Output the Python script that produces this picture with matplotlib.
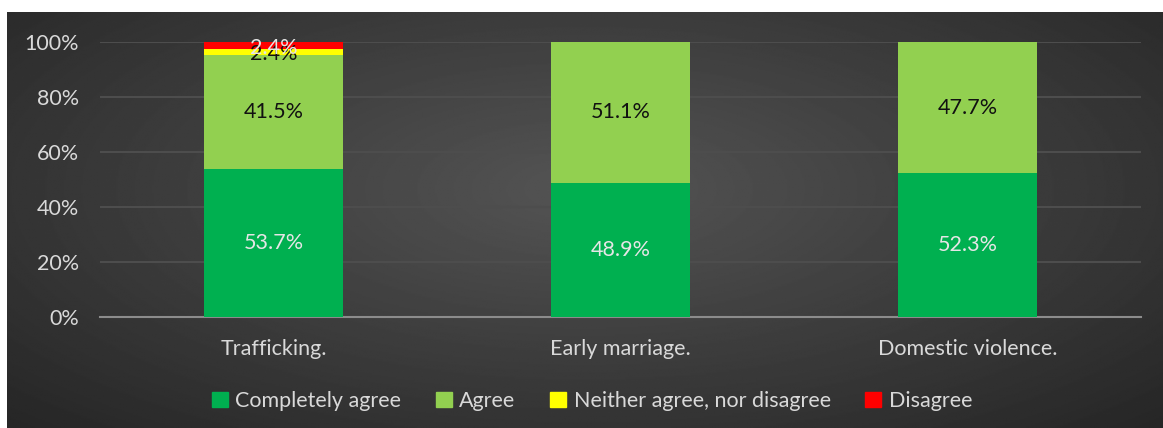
import matplotlib.pyplot as plt
import numpy as np

plt.rcParams['font.family'] = ['Lato', 'DejaVu Sans']

categories = ['Trafficking.', 'Early marriage.', 'Domestic violence.']
series = ['Completely agree', 'Agree', 'Neither agree, nor disagree', 'Disagree']
completely = [53.7, 48.9, 52.3]
agree = [41.5, 51.1, 47.7]
neither = [2.4, 0.0, 0.0]
disagree = [2.4, 0.0, 0.0]
values = [completely, agree, neither, disagree]

colores = ['#00B050', '#92D050', '#FFFF00', '#FF0000']
txt_col = ['#e6e6e6', '#111111', '#111111', '#e6e6e6']
# pequeño desplazamiento vertical de las etiquetas (en %)
desp = [0, 0, -0.6, -1.0]

W, H = 1163, 428
fig = plt.figure(figsize=(W / 100, H / 100), dpi=100)
fig.patch.set_facecolor('white')

# fondo oscuro con degradado radial
bg = fig.add_axes([7 / W, 0, 1 - 7 / W, (H - 12) / H], zorder=-5)
yy, xx = np.mgrid[-1:1:300j, -1:1:800j]
rr = np.sqrt((xx * 0.85) ** 2 + ((yy + 0.15) * 0.75) ** 2)
grad = 0.33 - 0.18 * np.clip(rr, 0, 1.2) / 1.2
bg.imshow(grad, cmap='gray', vmin=0, vmax=1, aspect='auto', extent=[0, 1, 0, 1])
bg.axis('off')

ax = fig.add_axes([100 / W, 1 - 317 / H, 1041 / W, 275 / H])
ax.patch.set_alpha(0)
x = np.arange(len(categories))
bottom = np.zeros(len(categories))
for vals, c, tc, d in zip(values, colores, txt_col, desp):
    vals = np.array(vals)
    ax.bar(x, vals, 0.4, bottom=bottom, color=c, zorder=3)
    for i, v in enumerate(vals):
        if v > 0:
            ax.text(x[i], bottom[i] + v / 2 + d, f'{v:.1f}%', ha='center', va='center',
                    color=tc, fontsize=15.5, zorder=4)
    bottom += vals

ax.set_xlim(-0.5, 2.5)
ax.set_ylim(0, 100)
ax.set_yticks(range(0, 101, 20))
ax.set_yticklabels([f'{t}%' for t in range(0, 101, 20)])
ax.set_xticks(x)
ax.set_xticklabels(categories)
ax.tick_params(colors='#d9d9d9', labelsize=15.5, length=0)
ax.tick_params(axis='y', pad=15)
ax.tick_params(axis='x', pad=16)
ax.grid(axis='y', color='#4d4d4d', linewidth=1.5, zorder=0)
for s in ['top', 'right', 'left']:
    ax.spines[s].set_visible(False)
ax.spines['bottom'].set_color('#8c8c8c')
ax.spines['bottom'].set_linewidth(1.5)

handles = [plt.Rectangle((0, 0), 1, 1, color=c) for c in colores]
leg = fig.legend(handles, series, loc='center', bbox_to_anchor=(592 / W, 1 - 401 / H),
                 ncol=4, frameon=False, fontsize=15.5, handlelength=0.75, handleheight=0.75,
                 handletextpad=0.35, columnspacing=1.6)
for t in leg.get_texts():
    t.set_color('#d9d9d9')

plt.savefig('out.png', dpi=100)
